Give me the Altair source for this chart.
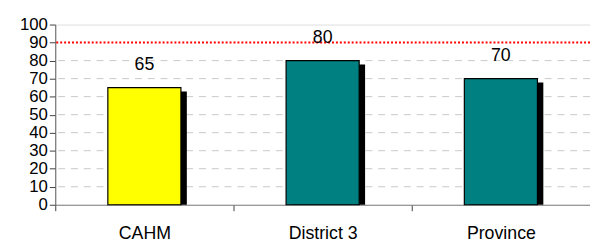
import altair as alt
import pandas as pd

categories = ["CAHM", "District 3", "Province"]
values = [65, 80, 70]
bar_colors = ["#FFFF00", "#008080", "#008080"]
target = [90]
grid_values = [10, 20, 30, 40, 50, 60, 70, 80]
y_ticks = [0, 10, 20, 30, 40, 50, 60, 70, 80, 90, 100]

df = pd.DataFrame({"cat": categories, "val": values, "color": bar_colors})
grid_df = pd.DataFrame({"g": grid_values})
target_df = pd.DataFrame({"t": target})

FONT = "Liberation Sans"
BAR_BAND = 0.41

x_axis = alt.Axis(
    labelAngle=0, tickBand="extent", labelFont=FONT, labelFontSize=18,
    labelColor="black", domainColor="#808080", tickColor="#404040",
    tickSize=6, labelPadding=14, grid=False,
)
x_enc = alt.X(
    "cat:N", sort=categories, title=None,
    scale=alt.Scale(paddingInner=0, paddingOuter=0),
    axis=x_axis,
)
y_scale = alt.Scale(domain=[0, 100], nice=False, zero=True)
y_axis = alt.Axis(
    values=y_ticks, grid=False, labelFont=FONT, labelFontSize=17,
    labelColor="black", domainColor="#606060", tickColor="#404040",
    tickSize=6, labelPadding=2, labelOverlap=False, labelFlush=False,
)
y_enc = alt.Y("val:Q", title=None, scale=y_scale, axis=y_axis)

grid = alt.Chart(grid_df).mark_rule(
    color="#c8c8c8", strokeDash=[7, 6], strokeWidth=1
).encode(y=alt.Y("g:Q", scale=y_scale, axis=y_axis, title=None))

shadow = alt.Chart(df).mark_bar(
    color="black", xOffset=6, yOffset=4, y2Offset=0,
    width=alt.RelativeBandSize(BAR_BAND),
).encode(x=x_enc, y=y_enc, y2=alt.datum(0))

bars = alt.Chart(df).mark_bar(
    stroke="black", strokeWidth=1.2, width=alt.RelativeBandSize(BAR_BAND)
).encode(
    x=x_enc,
    y=y_enc,
    color=alt.Color("color:N", scale=None),
)

labels = alt.Chart(df).mark_text(
    font=FONT, fontSize=18, color="black", baseline="alphabetic", dy=-18
).encode(x=x_enc, y=y_enc, text="val:Q")

red = alt.Chart(target_df).mark_rule(
    color="#FF0000", strokeDash=[2, 2], strokeWidth=2
).encode(y=alt.Y("t:Q", scale=y_scale, axis=y_axis, title=None))

chart = alt.layer(grid, shadow, bars, red, labels).properties(
    width=543,
    height=183,
    autosize=alt.AutoSizeParams(type="none"),
    padding={"left": 48, "top": 15, "right": 0, "bottom": 36},
).configure_view(stroke="transparent", strokeWidth=0).configure(background="white")

chart.save("out.html", embed_options={"renderer": "svg", "actions": False})
